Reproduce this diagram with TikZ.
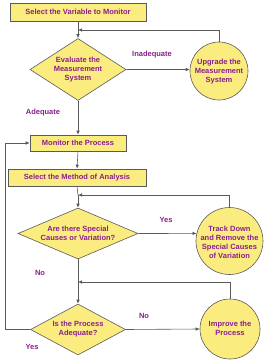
\documentclass[tikz,border=0pt]{standalone}
\usepackage{fontspec}
\setmainfont{Liberation Sans}
\usetikzlibrary{shapes.geometric,arrows.meta}
\definecolor{fillY}{HTML}{FBEC80}
\definecolor{txtP}{HTML}{8A1F8C}
\definecolor{lineG}{HTML}{5A5A5A}
\tikzset{
  every node/.style={font=\fontsize{7.5}{9}\selectfont\bfseries, text=txtP, align=center},
  boxnode/.style={draw=lineG, fill=fillY, line width=0.6pt, rectangle, inner sep=0pt},
  dia/.style={draw=lineG, fill=fillY, line width=0.6pt, diamond, inner sep=0pt},
  circ/.style={draw=lineG, fill=fillY, line width=0.6pt, circle, inner sep=0pt},
  conn/.style={draw=lineG, line width=0.6pt},
  arr/.style={conn, -{Latex[length=4pt,width=3.5pt]}},
  lbl/.style={inner sep=0pt}
}
\begin{document}
\begin{tikzpicture}[x=1pt,y=-1pt]
\useasboundingbox (0,0) rectangle (267,361);
% boxes
\node[boxnode, minimum width=136pt, minimum height=18pt] (b1) at (78,12) {Select the Variable to Monitor};
\node[boxnode, minimum width=96pt, minimum height=16pt] (b2) at (78,143) {Monitor the Process};
\node[boxnode, minimum width=138pt, minimum height=17pt] (b3) at (77,177.5) {Select the Method of Analysis};
% diamonds
\node[dia, minimum width=96pt, minimum height=62pt] (d1) at (78,69.5) {};
\node at (78,70) {Evaluate the\\Measurement\\System};
\node[dia, minimum width=120pt, minimum height=51pt] (d2) at (78,233.5) {};
\node at (78,233) {Are there Special\\Causes or Variation?};
\node[dia, minimum width=95pt, minimum height=51pt] (d3) at (78,329.5) {};
\node at (78,329.5) {Is the Process\\Adequate?};
% circles
\node[circ, minimum size=58pt] (c1) at (219,71) {};
\node at (219,72) {Upgrade the\\Measurement\\System};
\node[circ, minimum size=67pt] (c2) at (229.5,241) {};
\node at (229.5,242) {Track Down\\and Remove the\\Special Causes\\of Variation};
\node[circ, minimum size=60pt] (c3) at (230,329) {};
\node at (230,328) {Improve the\\Process};
% coordinates
\coordinate (j1) at (78,30);
\coordinate (j2) at (78,195);
\coordinate (j3) at (78,282);
\coordinate (l1) at (5,329.5);
\coordinate (l2) at (5,143);
% main flow
\draw[conn] (b1.south) -- (j1);
\draw[arr] (j1) -- (d1.north);
\draw[arr] (d1.south) -- (b2.north);
\draw[arr] (b2.south) -- (b3.north);
\draw[conn] (b3.south) -- (j2);
\draw[arr] (j2) -- (d2.north);
\draw[conn] (d2.south) -- (j3);
\draw[arr] (j3) -- (d3.north);
% side branches
\draw[arr] (d1.east) -- (c1.177);
\draw[arr] (d2.east) -- (c2.167);
\draw[arr] (d3.east) -- (c3.west);
% feedbacks
\draw[arr] (c1.north) |- (j1);
\draw[arr] (c2.north) |- (j2);
\draw[arr] (c3.north) |- (j3);
\draw[arr] (d3.west) -- (l1) -- (l2) -- (b2.west);
% labels
\node[lbl] (t1) at (152,55) {Inadequate};
\node[lbl] (t2) at (43,113) {Adequate};
\node[lbl] (t3) at (166,220) {Yes};
\node[lbl] (t4) at (40,273) {No};
\node[lbl] (t5) at (144,316) {No};
\node[lbl] (t6) at (32,347) {Yes};
\end{tikzpicture}
\end{document}
